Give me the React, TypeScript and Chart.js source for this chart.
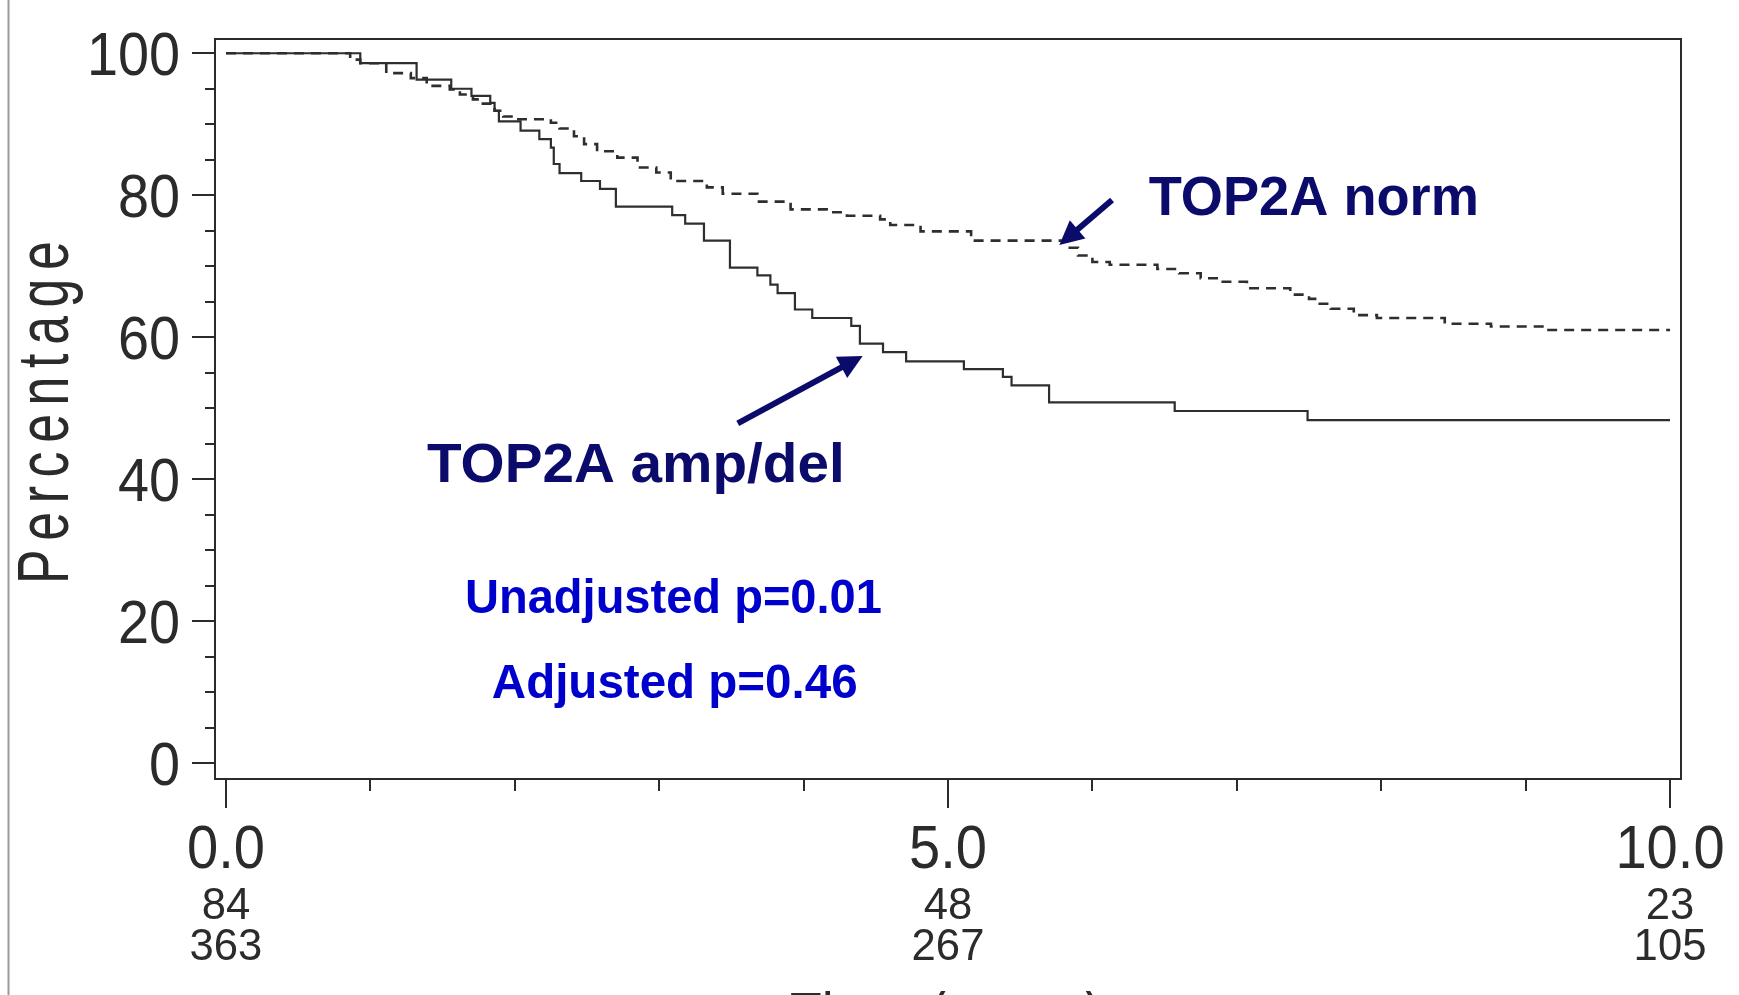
import React, { useEffect, useRef } from "react";
import { Chart, registerables } from "chart.js";

Chart.register(...registerables);

// ---- Data ----
const ampDelTimes = [0, 0.93, 1.32, 1.56, 1.70, 1.83, 1.86, 1.89, 2.04, 2.17, 2.25, 2.27, 2.31, 2.46, 2.59, 2.70, 3.09, 3.18, 3.31, 3.49, 3.68, 3.77, 3.82, 3.94, 4.06, 4.33, 4.39, 4.55, 4.71, 5.11, 5.38, 5.44, 5.70, 6.57, 7.49, 10.0];
const ampDelSurvival = [100, 98.6, 96.3, 95.0, 94.0, 93.0, 91.9, 90.4, 89.1, 87.9, 86.7, 84.4, 83.1, 82.0, 80.9, 78.4, 77.2, 76.0, 73.6, 69.8, 68.7, 67.4, 66.2, 63.9, 62.7, 61.6, 59.1, 57.9, 56.6, 55.5, 54.4, 53.2, 50.8, 49.6, 48.3, 48.3];

const normTimes = [0, 0.86, 0.93, 1.11, 1.28, 1.39, 1.55, 1.62, 1.71, 1.77, 1.86, 1.92, 2.01, 2.25, 2.31, 2.41, 2.48, 2.57, 2.71, 2.85, 2.98, 3.08, 3.33, 3.44, 3.68, 3.91, 4.16, 4.30, 4.53, 4.60, 4.81, 5.16, 5.82, 5.90, 6.00, 6.12, 6.45, 6.60, 6.75, 6.88, 7.07, 7.37, 7.50, 7.56, 7.65, 7.81, 7.97, 8.44, 8.76, 9.13, 10.0];
const normSurvival = [100, 99.1, 98.6, 97.2, 96.5, 95.4, 94.9, 94.2, 93.5, 92.9, 91.9, 91.1, 90.7, 90.2, 89.4, 88.3, 87.2, 86.2, 85.3, 83.9, 83.2, 82.0, 81.1, 80.2, 79.1, 78.0, 77.6, 77.1, 76.6, 75.8, 74.9, 73.6, 72.6, 71.5, 70.6, 70.2, 69.6, 69.0, 68.3, 67.8, 66.9, 66.0, 65.4, 64.7, 64.0, 63.1, 62.7, 61.9, 61.5, 61.0, 61.0];

const yTickValues = [0, 20, 40, 60, 80, 100];
const yMinorValues = [5, 10, 15, 25, 30, 35, 45, 50, 55, 65, 70, 75, 85, 90, 95];
const xTickValues = [0, 5, 10];
const xTickLabels = ["0.0", "5.0", "10.0"];
const xMinorValues = [1, 2, 3, 4, 6, 7, 8, 9];
const atRiskAmpDel = ["84", "48", "23"];
const atRiskNorm = ["363", "267", "105"];

const yTitle = "Percentage";
const xTitle = "Time (years)";
const normLabel = "TOP2A norm";
const ampLabel = "TOP2A amp/del";
const unadjustedText = "Unadjusted p=0.01";
const adjustedText = "Adjusted p=0.46";

// ---- Styles ----
const FONT = '"Liberation Sans", Arial, Helvetica, sans-serif';
const INK = "#2b2b2b";
const NAVY = "#0b0b6b";
const BLUE = "#0000cc";

function drawText(
  ctx: CanvasRenderingContext2D,
  text: string,
  x: number,
  y: number,
  size: number,
  align: CanvasTextAlign,
  sx: number,
  color: string,
  weight = "normal"
) {
  ctx.save();
  ctx.font = `${weight} ${size}px ${FONT}`;
  ctx.fillStyle = color;
  ctx.translate(x, y);
  ctx.scale(sx, 1);
  ctx.textAlign = align;
  ctx.textBaseline = "alphabetic";
  ctx.fillText(text, 0, 0);
  ctx.restore();
}

function drawArrow(
  ctx: CanvasRenderingContext2D,
  x0: number,
  y0: number,
  x1: number,
  y1: number,
  color: string
) {
  const ang = Math.atan2(y1 - y0, x1 - x0);
  const headLen = 24;
  const headHalf = 12;
  const c = Math.cos(ang);
  const s = Math.sin(ang);
  const bx = x1 - headLen * c;
  const by = y1 - headLen * s;
  ctx.save();
  ctx.strokeStyle = color;
  ctx.fillStyle = color;
  ctx.lineWidth = 6;
  ctx.lineCap = "butt";
  ctx.beginPath();
  ctx.moveTo(x0, y0);
  ctx.lineTo(bx + 2 * c, by + 2 * s);
  ctx.stroke();
  ctx.beginPath();
  ctx.moveTo(x1, y1);
  ctx.lineTo(bx + headHalf * s, by - headHalf * c);
  ctx.lineTo(bx - headHalf * s, by + headHalf * c);
  ctx.closePath();
  ctx.fill();
  ctx.restore();
}

const decorPlugin = {
  id: "kmDecor",
  afterDraw(chart: any) {
    const ctx: CanvasRenderingContext2D = chart.ctx;
    const a = chart.chartArea;
    const xs = chart.scales.x;
    const ys = chart.scales.y;
    const px = (v: number) => xs.getPixelForValue(v);
    const py = (v: number) => ys.getPixelForValue(v);

    ctx.save();
    // scanned page edge
    ctx.strokeStyle = "#9a9a9a";
    ctx.lineWidth = 2;
    ctx.beginPath();
    ctx.moveTo(8.5, 0);
    ctx.lineTo(8.5, chart.height);
    ctx.stroke();

    // frame
    ctx.strokeStyle = INK;
    ctx.lineWidth = 2;
    ctx.strokeRect(a.left, a.top, a.right - a.left, a.bottom - a.top);

    // y ticks
    ctx.beginPath();
    yTickValues.forEach((v) => {
      const y = Math.round(py(v));
      ctx.moveTo(a.left - 23, y);
      ctx.lineTo(a.left, y);
    });
    yMinorValues.forEach((v) => {
      const y = Math.round(py(v));
      ctx.moveTo(a.left - 10, y);
      ctx.lineTo(a.left, y);
    });
    // x ticks
    xTickValues.forEach((v) => {
      const x = Math.round(px(v));
      ctx.moveTo(x, a.bottom);
      ctx.lineTo(x, a.bottom + 29);
    });
    xMinorValues.forEach((v) => {
      const x = Math.round(px(v));
      ctx.moveTo(x, a.bottom);
      ctx.lineTo(x, a.bottom + 12);
    });
    ctx.stroke();
    ctx.restore();

    // y tick labels
    yTickValues.forEach((v) => {
      drawText(ctx, String(v), a.left - 35, py(v) + 22, 62, "right", 0.9, INK);
    });
    // x tick labels + numbers at risk
    xTickValues.forEach((v, i) => {
      const x = px(v);
      drawText(ctx, xTickLabels[i], x, a.bottom + 89, 61, "center", 0.92, INK);
      drawText(ctx, atRiskAmpDel[i], x, a.bottom + 140, 45, "center", 0.97, INK);
      drawText(ctx, atRiskNorm[i], x, a.bottom + 181, 45, "center", 0.97, INK);
    });

    // axis titles (condensed, letter-spaced)
    ctx.save();
    ctx.font = `normal 72px ${FONT}`;
    ctx.fillStyle = INK;
    ctx.textBaseline = "alphabetic";
    ctx.textAlign = "left";
    (ctx as any).letterSpacing = "12px";
    ctx.translate(68, py(-2.25) - 195);
    ctx.rotate(-Math.PI / 2);
    ctx.scale(0.72, 1);
    ctx.fillText(yTitle, 0, 0);
    ctx.restore();

    ctx.save();
    ctx.font = `normal 72px ${FONT}`;
    ctx.fillStyle = INK;
    ctx.textBaseline = "alphabetic";
    ctx.textAlign = "left";
    (ctx as any).letterSpacing = "3px";
    ctx.translate(px(5) - 158, a.bottom + 264);
    ctx.scale(0.72, 1);
    ctx.fillText(xTitle, 0, 0);
    ctx.restore();

    // annotations, anchored in data coordinates
    drawText(ctx, normLabel, px(6.39), py(77.2), 55, "left", 0.985, NAVY, "bold");
    drawArrow(ctx, px(6.136), py(79.33), px(5.771), py(72.99), NAVY);
    drawText(ctx, ampLabel, px(1.392), py(39.64), 55, "left", 1.03, NAVY, "bold");
    drawArrow(ctx, px(3.544), py(47.87), px(4.409), py(57.35), NAVY);
    drawText(ctx, unadjustedText, px(1.655), py(21.09), 48, "left", 0.98, BLUE, "bold");
    drawText(ctx, adjustedText, px(1.841), py(9.12), 48, "left", 0.99, BLUE, "bold");
  },
};

export default function App() {
  const canvasRef = useRef<HTMLCanvasElement | null>(null);

  useEffect(() => {
    const canvas = canvasRef.current;
    if (!canvas) return;
    const toPoints = (ts: number[], vs: number[]) => ts.map((t, i) => ({ x: t, y: vs[i] }));
    const chart = new Chart(canvas, {
      type: "line",
      data: {
        datasets: [
          {
            label: normLabel,
            data: toPoints(normTimes, normSurvival),
            borderColor: "#2e2e2e",
            borderWidth: 2.6,
            borderDash: [10, 7],
            stepped: true,
            pointRadius: 0,
            fill: false,
          },
          {
            label: ampLabel,
            data: toPoints(ampDelTimes, ampDelSurvival),
            borderColor: "#2e2e2e",
            borderWidth: 2.2,
            stepped: true,
            pointRadius: 0,
            fill: false,
          },
        ],
      },
      options: {
        animation: false,
        responsive: false,
        devicePixelRatio: 1,
        events: [],
        layout: { padding: { left: 215, top: 39, right: 58, bottom: 216 } },
        scales: {
          x: { type: "linear", min: -0.076, max: 10.076, display: false },
          y: { type: "linear", min: -2.25, max: 102.01, display: false },
        },
        plugins: {
          legend: { display: false },
          tooltip: { enabled: false },
        },
      },
      plugins: [decorPlugin],
    } as any);
    return () => chart.destroy();
  }, []);

  return (
    <div
      style={{
        position: "fixed",
        left: 0,
        top: 0,
        width: "1739px",
        height: "995px",
        background: "#ffffff",
        overflow: "hidden",
      }}
    >
      <canvas ref={canvasRef} width={1739} height={995} style={{ display: "block" }} />
    </div>
  );
}
